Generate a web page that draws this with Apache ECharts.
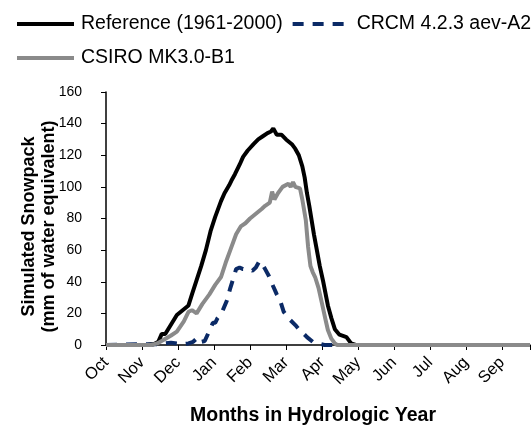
<!DOCTYPE html>
<html>
<head>
<meta charset="utf-8">
<script src="https://cdn.jsdelivr.net/npm/echarts@6/dist/echarts.min.js"></script>
<style>
  html, body { margin: 0; padding: 0; background: #fff; }
  #chart { width: 531px; height: 426px; }
</style>
</head>
<body>
<div id="chart"></div>
<script>
// 水文年的日序（0 = 10月1日），刻度每 31 天一格；各序列读图得到的雪水当量
const months = ['Oct', 'Nov', 'Dec', 'Jan', 'Feb', 'Mar', 'Apr', 'May', 'Jun', 'Jul', 'Aug', 'Sep']
const yTicks = [0, 20, 40, 60, 80, 100, 120, 140, 160]

const refDays = [0, 36, 41, 45, 48, 51, 56, 61, 66, 71, 74, 78, 82, 86, 90, 94, 99, 102, 106, 108, 111, 115, 118, 122, 127, 131, 135, 139, 142, 144, 147, 151, 155, 160, 163, 166, 169, 171, 173, 175, 177, 179, 181, 184, 187, 191, 194, 197, 201, 207, 211, 215, 365]
const refSwe = [0, 0, 0.5, 2, 7, 7, 13, 19, 22, 25, 32, 41, 50, 60, 72, 81, 91, 96, 101, 104, 108, 114, 119, 123, 127, 130, 132, 134, 135, 137, 133, 133, 130, 127, 124, 120, 113, 106, 96, 88, 79, 70, 62, 50, 40, 25, 17, 10, 6.5, 5, 1, 0, 0]

const crcmDays = [0, 30, 46, 51, 56, 61, 66, 71, 75, 78, 80, 82, 85, 89, 92, 94, 96, 100, 104, 107, 110, 112, 115, 118, 122, 126, 129, 132, 134, 137, 140, 144, 147, 150, 153, 157, 163, 166, 169, 173, 178, 183, 188, 365]
const crcmSwe = [0, 0.5, 0.5, 1, 1.5, 1, 0.5, 1, 2, 4, 4.5, 2, 2.5, 9, 14, 14, 17, 21, 28, 36, 43, 48, 49, 48, 48, 47, 49, 53, 52, 48, 44, 37, 32, 28, 21, 17, 12.6, 10, 8, 5, 2, 1, 0, 0]

const csiroDays = [0, 39, 44, 49, 56, 61, 67, 71, 74, 78, 83, 89, 94, 99, 103, 107, 112, 116, 120, 124, 129, 134, 137, 141, 143, 145, 148, 152, 157, 159, 161, 163, 167, 169, 172, 174, 176, 178, 180, 183, 186, 189, 191, 194, 197, 199, 365]
const csiroSwe = [0, 0, 1, 3, 6, 8.5, 15, 21, 22, 20, 26, 32, 38, 43, 52, 60, 70, 75, 77, 80, 83, 86, 88, 90, 97, 92, 96, 100, 102, 100, 103, 100, 99, 92, 79, 62, 50, 46, 43, 36, 26, 16, 9.5, 4, 1, 0, 0]

const tickStep = 31
const pair = (xs, ys) => xs.map((x, i) => [x, ys[i]])

const textFont = 'Liberation Sans, Arial, sans-serif'
const legendBase = {
  left: 10,
  width: 700,
  itemWidth: 57,
  itemHeight: 14,
  itemGap: 8,
  itemStyle: { opacity: 0 },
  lineStyle: { width: 4 },
  textStyle: { fontFamily: textFont, fontSize: 19.5, color: '#000', padding: [0, 0, 0, 2] }
}

const chart = echarts.init(document.getElementById('chart'))
chart.setOption({
  animation: false,
  legend: [
    Object.assign({}, legendBase, { data: ['Reference (1961-2000)', 'CRCM 4.2.3 aev-A2'], top: 9 }),
    Object.assign({}, legendBase, { data: ['CSIRO MK3.0-B1'], top: 43 })
  ],
  grid: { left: 106, top: 92, width: 424, height: 253, outerBoundsMode: 'none' },
  xAxis: {
    type: 'value',
    min: 0,
    max: 365,
    interval: tickStep,
    axisLine: { lineStyle: { color: '#000', width: 1.5 } },
    axisTick: { show: true, length: 5, lineStyle: { color: '#000' } },
    splitLine: { show: false },
    axisLabel: {
      rotate: 45,
      margin: 15,
      fontFamily: textFont,
      fontSize: 16.5,
      color: '#000',
      formatter: (v) => months[Math.round(v / tickStep)] || ''
    },
    name: 'Months in Hydrologic Year',
    nameLocation: 'middle',
    nameGap: 61,
    nameMoveOverlap: false,
    nameTextStyle: { fontFamily: textFont, fontSize: 19.5, fontWeight: 'bold', color: '#000', padding: [0, 10, 0, 0] }
  },
  yAxis: {
    type: 'value',
    min: yTicks[0],
    max: yTicks[yTicks.length - 1],
    interval: 20,
    axisLine: { show: true, lineStyle: { color: '#000', width: 1.5 } },
    axisTick: { show: true, length: 5, lineStyle: { color: '#000' } },
    splitLine: { show: false },
    axisLabel: { margin: 24, fontFamily: textFont, fontSize: 14, color: '#000' },
    name: 'Simulated Snowpack\n(mm of water equivalent)',
    nameLocation: 'middle',
    nameGap: 47,
    nameMoveOverlap: false,
    nameTextStyle: { fontFamily: textFont, fontSize: 18, fontWeight: 'bold', color: '#000', lineHeight: 20, padding: [0, 16, 0, 0] }
  },
  series: [
    {
      name: 'Reference (1961-2000)',
      type: 'line',
      z: 3,
      symbol: 'none',
      data: pair(refDays, refSwe),
      lineStyle: { color: '#000', width: 4 },
      itemStyle: { color: '#000' }
    },
    {
      name: 'CRCM 4.2.3 aev-A2',
      type: 'line',
      z: 2,
      symbol: 'none',
      data: pair(crcmDays, crcmSwe),
      lineStyle: { color: '#0b2a66', width: 4, type: [11, 9] },
      itemStyle: { color: '#0b2a66' }
    },
    {
      name: 'CSIRO MK3.0-B1',
      type: 'line',
      z: 4,
      symbol: 'none',
      data: pair(csiroDays, csiroSwe),
      lineStyle: { color: '#8a8a8a', width: 4 },
      itemStyle: { color: '#8a8a8a' }
    }
  ]
})
</script>
</body>
</html>
